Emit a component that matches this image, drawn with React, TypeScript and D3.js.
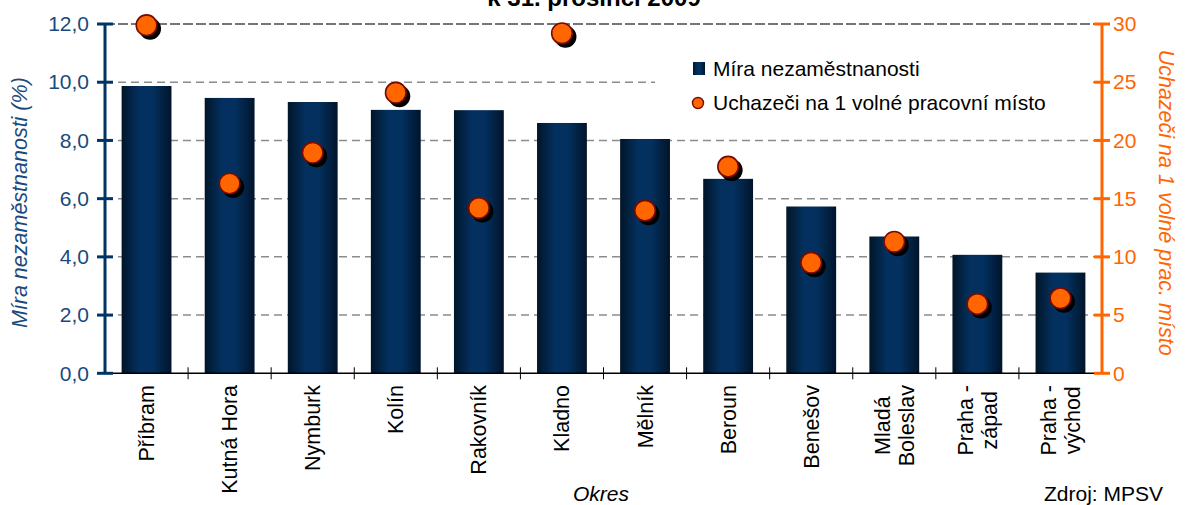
import React, { useEffect, useRef } from 'react';
import * as d3 from 'd3';

// okresy Středočeského kraje
const categories = [
  'Příbram', 'Kutná Hora', 'Nymburk', 'Kolín', 'Rakovník', 'Kladno',
  'Mělník', 'Beroun', 'Benešov', 'Mladá\nBoleslav', 'Praha -\nzápad', 'Praha -\nvýchod',
];
const unemployment = [9.87, 9.46, 9.32, 9.05, 9.04, 8.6, 8.05, 6.68, 5.73, 4.7, 4.07, 3.46];
const applicants = [29.9, 16.3, 18.95, 24.1, 14.2, 29.2, 13.97, 17.75, 9.5, 11.3, 5.96, 6.45];

const leftTicks = [0, 2, 4, 6, 8, 10, 12];
const rightTicks = [0, 5, 10, 15, 20, 25, 30];
const legendLabels = ['Míra nezaměstnanosti', 'Uchazeči na 1 volné pracovní místo'];

const FONT = '"Liberation Sans", Arial, sans-serif';
const NAVY = '#003366';
const ORANGE = '#FF6600';
const FS = 21;

export default function App() {
  const ref = useRef<SVGSVGElement>(null);

  useEffect(() => {
    const svg = d3.select(ref.current);
    svg.selectAll('*').remove();

    const left = 105, right = 1102, top = 24, bottom = 373.3;

    const x = d3.scaleBand().domain(categories).range([left, right]).paddingInner(0.4).paddingOuter(0.2);
    const step = x.step();
    const y = d3.scaleLinear().domain([0, 12]).range([bottom, top]);
    const y2 = d3.scaleLinear().domain([0, 30]).range([bottom, top]);

    const defs = svg.append('defs');
    const grad = defs.append('linearGradient').attr('id', 'barGrad').attr('x1', 0).attr('x2', 1).attr('y1', 0).attr('y2', 0);
    grad.append('stop').attr('offset', '0%').attr('stop-color', '#011528');
    grad.append('stop').attr('offset', '35%').attr('stop-color', '#03305e');
    grad.append('stop').attr('offset', '62%').attr('stop-color', '#03305e');
    grad.append('stop').attr('offset', '100%').attr('stop-color', '#01142a');

    const g = svg.append('g').style('font-family', FONT);

    // gridlines
    g.append('g').selectAll('line')
      .data(leftTicks.filter(d => d > 0))
      .join('line')
      .attr('x1', left).attr('x2', right)
      .attr('y1', d => y(d)).attr('y2', d => y(d))
      .attr('stroke', d => (d === 12 ? '#4a4a4a' : '#8c8c8c'))
      .attr('stroke-width', 1.5)
      .attr('stroke-dasharray', d => (d === 12 ? '10,3' : '8,5'));

    // legend background
    g.append('rect').attr('x', 655).attr('y', 46).attr('width', 438).attr('height', 76).attr('fill', '#fff');

    // bars
    g.append('g').selectAll('rect')
      .data(unemployment)
      .join('rect')
      .attr('x', (d, i) => x(categories[i])!)
      .attr('width', x.bandwidth())
      .attr('y', d => y(d))
      .attr('height', d => bottom - y(d))
      .attr('fill', 'url(#barGrad)');

    // x axis
    g.append('line').attr('x1', left).attr('x2', right).attr('y1', bottom).attr('y2', bottom)
      .attr('stroke', '#000').attr('stroke-width', 1.5);
    g.append('g').selectAll('line')
      .data(d3.range(1, categories.length))
      .join('line')
      .attr('x1', i => left + i * step).attr('x2', i => left + i * step)
      .attr('y1', bottom - 6).attr('y2', bottom + 6)
      .attr('stroke', '#000').attr('stroke-width', 1);

    // category labels
    categories.forEach(c => {
      const lines = c.split('\n');
      const cx = x(c)! + x.bandwidth() / 2;
      const grp = g.append('g');
      const texts = lines.map(ln =>
        grp.append('text')
          .attr('font-size', 21.5)
          .attr('fill', '#000')
          .attr('text-anchor', 'middle')
          .text(ln)
      );
      const maxLen = d3.max(texts, t => (t.node() as SVGTextElement).getComputedTextLength()) || 0;
      const cy = 385 + maxLen / 2;
      texts.forEach((t, j) => {
        const off = (j - (lines.length - 1) / 2) * 24;
        t.attr('transform', `translate(${cx + off + 7.5},${cy}) rotate(-90)`);
      });
    });

    // left axis
    const la = g.append('g').attr('transform', `translate(${left},0)`)
      .call(d3.axisLeft(y).tickValues(leftTicks).tickSize(0).tickPadding(16)
        .tickFormat(d => (d as number).toFixed(1).replace('.', ',')));
    la.select('.domain').remove();
    la.selectAll('text').attr('font-size', FS).attr('fill', '#1a4a7c').style('font-family', FONT);
    g.append('line').attr('x1', left).attr('x2', left).attr('y1', top).attr('y2', bottom)
      .attr('stroke', NAVY).attr('stroke-width', 3);
    g.append('g').selectAll('line').data(leftTicks).join('line')
      .attr('x1', left - 8).attr('x2', left + 8)
      .attr('y1', d => y(d)).attr('y2', d => y(d))
      .attr('stroke', NAVY).attr('stroke-width', 3);

    // right axis
    const ra = g.append('g').attr('transform', `translate(${right},0)`)
      .call(d3.axisRight(y2).tickValues(rightTicks).tickSize(0).tickPadding(11));
    ra.select('.domain').remove();
    ra.selectAll('text').attr('font-size', FS).attr('fill', ORANGE).style('font-family', FONT);
    g.append('line').attr('x1', right).attr('x2', right).attr('y1', top).attr('y2', bottom)
      .attr('stroke', ORANGE).attr('stroke-width', 3);
    g.append('g').selectAll('line').data(rightTicks).join('line')
      .attr('x1', right - 8).attr('x2', right + 8)
      .attr('y1', d => y2(d)).attr('y2', d => y2(d))
      .attr('stroke', ORANGE).attr('stroke-width', 3);

    // points with shadow
    const pts = g.append('g');
    pts.selectAll('circle.shadow').data(applicants).join('circle')
      .attr('class', 'shadow')
      .attr('cx', (d, i) => x(categories[i])! + x.bandwidth() / 2 + 3.5)
      .attr('cy', d => y2(d) + 3.5)
      .attr('r', 11).attr('fill', '#000');
    pts.selectAll('circle.pt').data(applicants).join('circle')
      .attr('class', 'pt')
      .attr('cx', (d, i) => x(categories[i])! + x.bandwidth() / 2)
      .attr('cy', d => y2(d))
      .attr('r', 10.3).attr('fill', ORANGE).attr('stroke', '#7a0a00').attr('stroke-width', 1.6);

    // legend
    g.append('rect').attr('x', 693).attr('y', 62).attr('width', 12).attr('height', 13).attr('fill', 'url(#barGrad)');
    g.append('circle').attr('cx', 698).attr('cy', 103).attr('r', 5.5)
      .attr('fill', ORANGE).attr('stroke', '#7a0a00').attr('stroke-width', 1.4);
    legendLabels.forEach((t, i) => {
      g.append('text').attr('x', 713).attr('y', i === 0 ? 68.5 : 103)
        .attr('dy', '0.35em').attr('font-size', FS).attr('fill', '#000').text(t);
    });

    // titles
    g.append('text').attr('x', 594).attr('y', 6).attr('text-anchor', 'middle')
      .attr('font-size', 24).attr('font-weight', 'bold').attr('fill', '#000').text('k 31. prosinci 2009');
    g.append('text').attr('transform', `translate(27,${(top + bottom) / 2 + 4}) rotate(-90)`)
      .attr('text-anchor', 'middle').attr('font-size', 21.5).attr('font-style', 'italic')
      .attr('fill', '#1a4a7c').text('Míra nezaměstnanosti (%)');
    g.append('text').attr('transform', `translate(1159,${(top + bottom) / 2 + 4}) rotate(90)`)
      .attr('text-anchor', 'middle').attr('font-size', 21.5).attr('font-style', 'italic')
      .attr('fill', ORANGE).text('Uchazeči na 1 volné prac. místo');
    g.append('text').attr('x', 601).attr('y', 501).attr('text-anchor', 'middle')
      .attr('font-size', FS).attr('font-style', 'italic').attr('fill', '#000').text('Okres');
    g.append('text').attr('x', 1163).attr('y', 501).attr('text-anchor', 'end')
      .attr('font-size', FS).attr('fill', '#000').text('Zdroj: MPSV');
  }, []);

  return (
    <svg ref={ref} width={1187} height={505}
      style={{ position: 'absolute', left: 0, top: 0, background: '#fff' }} />
  );
}
